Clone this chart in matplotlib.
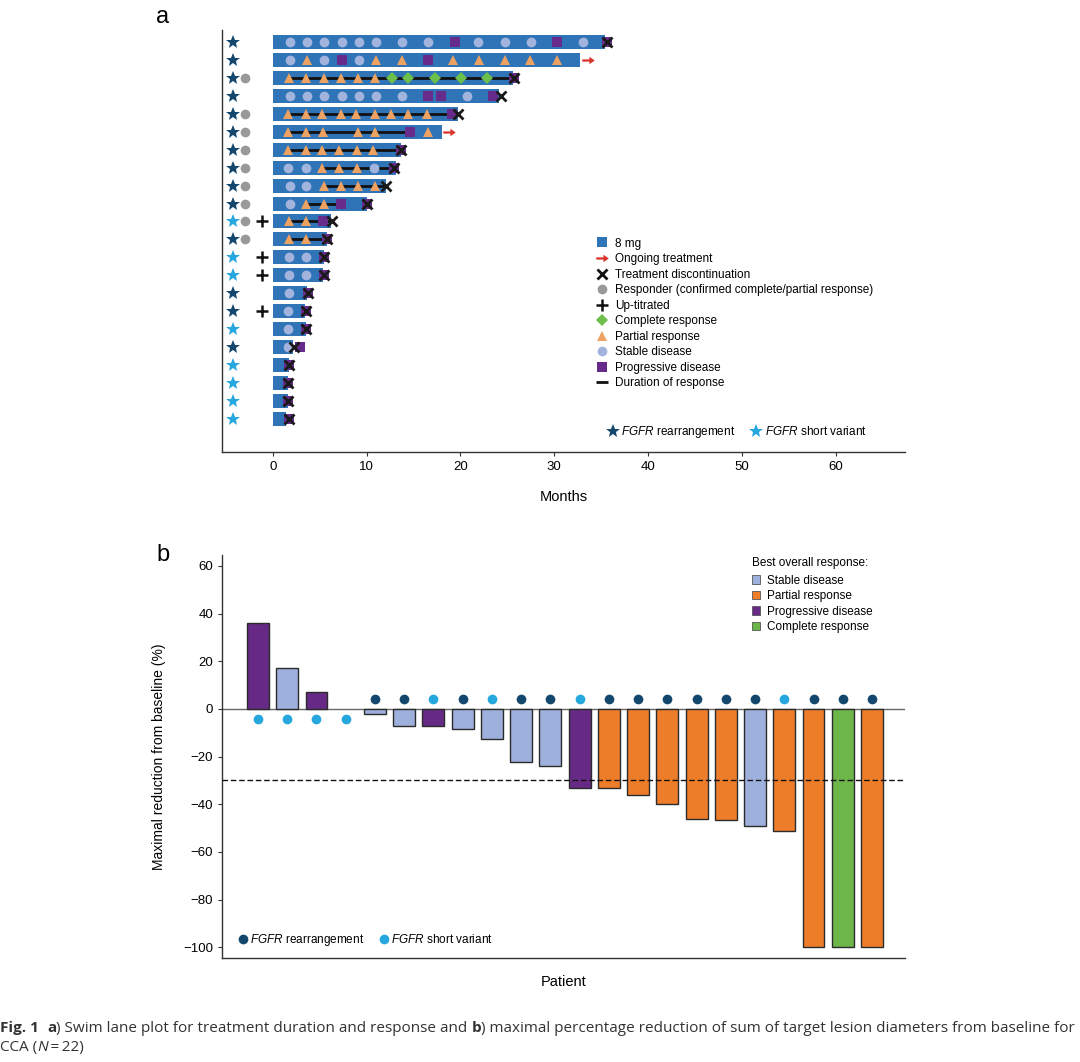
import matplotlib
matplotlib.use("Agg")
import matplotlib.pyplot as plt
from matplotlib.lines import Line2D
from matplotlib.patches import Patch

plt.rcParams['font.family'] = ['Liberation Sans', 'DejaVu Sans']
plt.rcParams['mathtext.fontset'] = 'custom'
plt.rcParams['mathtext.rm'] = 'Liberation Sans'
plt.rcParams['mathtext.it'] = 'Liberation Sans:italic'

# ---- panel a data: one entry per patient, top row first ----
durations = [35.4, 32.8, 25.6, 24.1, 19.7, 18.0, 13.7, 13.1, 12.1, 10.0, 6.2,
             5.8, 5.5, 5.4, 3.7, 3.4, 3.5, 2.2, 1.7, 1.6, 1.6, 1.4]
discontinued_at = [35.6, None, 25.7, 24.3, 19.7, None, 13.7, 12.9, 12.1, 10.0, 6.3,
                   5.8, 5.5, 5.5, 3.75, 3.55, 3.55, 2.3, 1.75, 1.6, 1.6, 1.7]
short_variant = [0, 0, 0, 0, 0, 0, 0, 0, 0, 0, 1, 0, 1, 1, 0, 0, 1, 0, 1, 1, 1, 1]
responder = [0, 0, 1, 0, 1, 1, 1, 1, 1, 1, 1, 1, 0, 0, 0, 0, 0, 0, 0, 0, 0, 0]
up_titrated = [0, 0, 0, 0, 0, 0, 0, 0, 0, 0, 1, 0, 1, 1, 0, 1, 0, 0, 0, 0, 0, 0]

sd_times = [
    [1.8, 3.7, 5.5, 7.4, 9.2, 11.0, 13.8, 16.5, 21.9, 24.8, 27.5, 33.1],
    [1.8, 5.5, 9.2],
    [],
    [1.8, 3.7, 5.5, 7.4, 9.2, 11.0, 13.8, 20.7],
    [], [], [],
    [1.6, 3.55, 10.8],
    [1.8, 3.6],
    [1.8],
    [], [],
    [1.7, 3.6],
    [1.7, 3.55],
    [1.74], [1.67], [1.67], [1.67],
    [], [], [], [],
]
pr_times = [
    [],
    [3.7, 11.0, 13.8, 19.2, 22.0, 24.8, 27.4, 30.3],
    [1.74, 3.6, 5.5, 7.3, 9.1, 10.9],
    [],
    [1.67, 3.6, 5.3, 7.3, 8.9, 10.9, 12.6, 14.4, 16.4],
    [1.67, 3.6, 5.4, 9.1, 10.9, 16.6],
    [1.6, 3.55, 5.3, 7.1, 9.0, 10.7],
    [5.3, 7.1, 9.0],
    [5.5, 7.3, 9.1, 10.9],
    [3.6, 5.5],
    [1.7, 3.55],
    [1.7, 3.55],
    [], [], [], [], [], [], [], [], [], [],
]
cr_times = [[], [], [12.7, 14.4, 17.3, 20.1, 22.8]] + [[] for _ in range(19)]
pd_times = [
    [19.4, 30.3, 35.6],
    [7.4, 16.5],
    [25.7],
    [16.5, 17.9, 23.5],
    [19.1],
    [14.6],
    [13.7],
    [12.9],
    [],
    [7.3, 10.0],
    [5.4],
    [5.8],
    [5.5],
    [5.5],
    [3.75],
    [3.55],
    [3.55],
    [2.9],
    [1.75], [1.6], [1.6], [1.7],
]
dor_start = [None, None, 1.74, None, 1.67, 1.67, 1.6, 5.3, 5.5, 3.6, 1.7, 1.7,
             None, None, None, None, None, None, None, None, None, None]
dor_end = [None, None, 25.7, None, 19.4, 14.6, 13.7, 12.9, 12.1, 7.3, 6.2, 5.8,
           None, None, None, None, None, None, None, None, None, None]

# ---- panel b data ----
best_change = [36, 17.3, 7, 0, -2.3, -7.2, -7.2, -8.4, -12.6, -22.3, -23.8, -33.3,
               -33.3, -36, -40, -46, -46.7, -49.3, -51.2, -100, -100, -100]
best_response = ["PD", "SD", "PD", "SD", "SD", "SD", "PD", "SD", "SD", "SD", "SD", "PD",
                 "PR", "PR", "PR", "PR", "PR", "SD", "PR", "PR", "CR", "PR"]
b_short_variant = [1, 1, 1, 1, 0, 0, 1, 0, 1, 0, 0, 1, 0, 0, 0, 0, 0, 0, 1, 0, 0, 0]

# colours
BAR_BLUE = "#2f74b6"
SD_C = "#a2b4de"
PR_C = "#eea261"
CR_C = "#6cbf4a"
PD_C = "#672b8c"
DARK_STAR = "#14476e"
LIGHT_STAR = "#26a7de"
GREY = "#999999"
RED = "#d9342b"
B_SD = "#9eb0dc"
B_PR = "#ee7d2a"
B_PD = "#662a86"
B_CR = "#6db64a"
resp_colors = {"SD": B_SD, "PR": B_PR, "PD": B_PD, "CR": B_CR}

arrow_marker = [(-1, 0.18), (0.15, 0.18), (0.15, 0.6), (1, 0), (0.15, -0.6),
                (0.15, -0.18), (-1, -0.18), (-1, 0.18)]

fig = plt.figure(figsize=(10.8, 10.62), dpi=100)

# ================= panel a =================
ax = fig.add_axes([0.2056, 0.5744, 0.6324, 0.3974])
n = len(durations)
rows = list(range(1, n + 1))
ax.barh(rows, durations, height=0.78, color=BAR_BLUE, zorder=1)

for i, y in enumerate(rows):
    if dor_start[i] is not None:
        ax.plot([dor_start[i], dor_end[i]], [y, y], color="#111111", lw=2, zorder=2)
    ax.plot(sd_times[i], [y] * len(sd_times[i]), 'o', color=SD_C, ms=7, mew=0, zorder=3)
    ax.plot(pr_times[i], [y] * len(pr_times[i]), '^', color=PR_C, ms=7.5, mew=0, zorder=3)
    ax.plot(cr_times[i], [y] * len(cr_times[i]), 'D', color=CR_C, ms=6.5, mew=0, zorder=3)
    ax.plot(pd_times[i], [y] * len(pd_times[i]), 's', color=PD_C, ms=6.5, mew=0, zorder=3)
    if discontinued_at[i] is not None:
        ax.plot(discontinued_at[i], y, 'x', color="#1a1a1a", ms=7, mew=2, zorder=4)
    else:
        ax.plot(durations[i] + 0.8, y, marker=arrow_marker, color=RED, ms=9, mew=0, zorder=4)
    ax.plot(-4.25, y, '*', color=LIGHT_STAR if short_variant[i] else DARK_STAR,
            ms=10, mew=0, clip_on=False)
    if responder[i]:
        ax.plot(-3.0, y, 'o', color=GREY, ms=7, mew=0)
    if up_titrated[i]:
        ax.plot(-1.1, y, '+', color="#111111", ms=8, mew=1.8)

ax.set_xlim(-5.4, 67.4)
ax.set_ylim(23.84, 0.33)
ax.set_xticks([0, 10, 20, 30, 40, 50, 60])
ax.set_yticks([])
ax.tick_params(axis='x', labelsize=9.5, length=3, color="#333333")
ax.set_xlabel("Months", fontsize=10.5, labelpad=12)
for s in ["top", "right"]:
    ax.spines[s].set_visible(False)
for s in ["left", "bottom"]:
    ax.spines[s].set_color("#333333")
    ax.spines[s].set_linewidth(1)

handles_a = [
    Line2D([], [], ls='none', marker='s', color=BAR_BLUE, ms=6.5, mew=0),
    Line2D([], [], ls='none', marker=arrow_marker, color=RED, ms=9, mew=0),
    Line2D([], [], ls='none', marker='x', color="#111111", ms=7, mew=2),
    Line2D([], [], ls='none', marker='o', color=GREY, ms=7, mew=0),
    Line2D([], [], ls='none', marker='+', color="#111111", ms=8, mew=1.8),
    Line2D([], [], ls='none', marker='D', color=CR_C, ms=6.5, mew=0),
    Line2D([], [], ls='none', marker='^', color=PR_C, ms=7.5, mew=0),
    Line2D([], [], ls='none', marker='o', color=SD_C, ms=7, mew=0),
    Line2D([], [], ls='none', marker='s', color=PD_C, ms=6.5, mew=0),
    Line2D([], [], ls='none', marker='_', color="#111111", ms=9, mew=2),
]
labels_a = ["8 mg", "Ongoing treatment", "Treatment discontinuation",
            "Responder (confirmed complete/partial response)", "Up-titrated",
            "Complete response", "Partial response", "Stable disease",
            "Progressive disease", "Duration of response"]
leg1 = ax.legend(handles_a, labels_a, loc='upper left', bbox_to_anchor=(0.548, 0.508),
                 frameon=False, fontsize=8.5, handlelength=1.0, handletextpad=0.6,
                 labelspacing=0.3, borderpad=0, borderaxespad=0)
ax.add_artist(leg1)

star_handles = [Line2D([], [], ls='none', marker='*', color=DARK_STAR, ms=10, mew=0),
                Line2D([], [], ls='none', marker='*', color=LIGHT_STAR, ms=10, mew=0)]
ax.legend(star_handles, [r"$\it{FGFR}$ rearrangement", r"$\it{FGFR}$ short variant"],
          loc='upper left', bbox_to_anchor=(0.565, 0.066), ncol=2, frameon=False,
          fontsize=8.5, handlelength=0.8, handletextpad=0.3, columnspacing=1.4,
          borderpad=0, borderaxespad=0)

# ================= panel b =================
bx = fig.add_axes([0.2056, 0.0979, 0.6324, 0.3795])
xs = list(range(1, len(best_change) + 1))
bx.bar(xs, best_change, width=0.75, color=[resp_colors[r] for r in best_response],
       edgecolor=["none" if v == 0 else "#2b2b2b" for v in best_change],
       linewidth=1, zorder=2)
bx.axhline(0, color="#666666", lw=1, zorder=1)
bx.axhline(-30, color="#111111", lw=1, ls=(0, (4, 2)), zorder=3)

for x, v, sv in zip(xs, best_change, b_short_variant):
    dot_y = -4.2 if v >= 0 else 4.2
    bx.plot(x, dot_y, 'o', color=LIGHT_STAR if sv else DARK_STAR, ms=7, mew=0, zorder=4)

bx.set_xlim(-0.23, 23.13)
bx.set_ylim(-104.5, 64.6)
bx.set_xticks([])
bx.set_yticks([-100, -80, -60, -40, -20, 0, 20, 40, 60])
bx.set_yticklabels(["\u2212100", "\u221280", "\u221260", "\u221240", "\u221220",
                    "0", "20", "40", "60"])
bx.tick_params(axis='y', labelsize=9.5, length=3, color="#333333")
bx.set_xlabel("Patient", fontsize=10.5, labelpad=12)
bx.set_ylabel("Maximal reduction from baseline (%)", fontsize=10, labelpad=12)
for s in ["top", "right"]:
    bx.spines[s].set_visible(False)
for s in ["left", "bottom"]:
    bx.spines[s].set_color("#333333")
    bx.spines[s].set_linewidth(1)

resp_handles = [Patch(facecolor=B_SD, edgecolor="#555555", lw=0.6),
                Patch(facecolor=B_PR, edgecolor="#555555", lw=0.6),
                Patch(facecolor=B_PD, edgecolor="#555555", lw=0.6),
                Patch(facecolor=B_CR, edgecolor="#555555", lw=0.6)]
leg2 = bx.legend(resp_handles, ["Stable disease", "Partial response",
                                "Progressive disease", "Complete response"],
                 title="Best overall response:", title_fontsize=8.5, alignment='left',
                 loc='upper left', bbox_to_anchor=(0.776, 0.995), frameon=False,
                 fontsize=8.5, handlelength=0.7, handleheight=0.7, handletextpad=0.6,
                 labelspacing=0.3, borderpad=0, borderaxespad=0)
leg2._legend_box.sep = 4
bx.add_artist(leg2)

dot_handles = [Line2D([], [], ls='none', marker='o', color=DARK_STAR, ms=7, mew=0),
               Line2D([], [], ls='none', marker='o', color=LIGHT_STAR, ms=7, mew=0)]
bx.legend(dot_handles, [r"$\it{FGFR}$ rearrangement", r"$\it{FGFR}$ short variant"],
          loc='center left', bbox_to_anchor=(0.025, 0.045), ncol=2, frameon=False,
          fontsize=8.5, handlelength=0.6, handletextpad=0.3, columnspacing=1.4,
          borderpad=0, borderaxespad=0)

# panel letters
fig.text(163 / 1080, 1 - 17 / 1062, "a", fontsize=17, va='center', ha='center')
fig.text(163 / 1080, 1 - 555 / 1062, "b", fontsize=17, va='center', ha='center')

# caption, drawn piece by piece so bold / italic parts sit inline
renderer = fig.canvas.get_renderer()
cap_font = ['Open Sans', 'DejaVu Sans']


def draw_line(pieces, x0, y):
    x = x0
    for txt, weight, style in pieces:
        t = fig.text(x, y, txt, fontsize=11, family=cap_font, weight=weight,
                     style=style, color="#333333", va='baseline', ha='left')
        bb = t.get_window_extent(renderer=renderer)
        x += bb.width / fig.bbox.width


draw_line([("Fig. 1", 'bold', 'normal'), ("  ", 'normal', 'normal'),
           ("a", 'bold', 'normal'),
           (") Swim lane plot for treatment duration and response and ", 'normal', 'normal'),
           ("b", 'bold', 'normal'),
           (") maximal percentage reduction of sum of target lesion diameters from baseline for",
            'normal', 'normal')], 0.0, 1 - 1032 / 1062)
draw_line([("CCA (", 'normal', 'normal'), ("N", 'normal', 'italic'),
           ("\u2009=\u200922)", 'normal', 'normal')], 0.0, 1 - 1051 / 1062)

fig.savefig("out.png", dpi=100)
